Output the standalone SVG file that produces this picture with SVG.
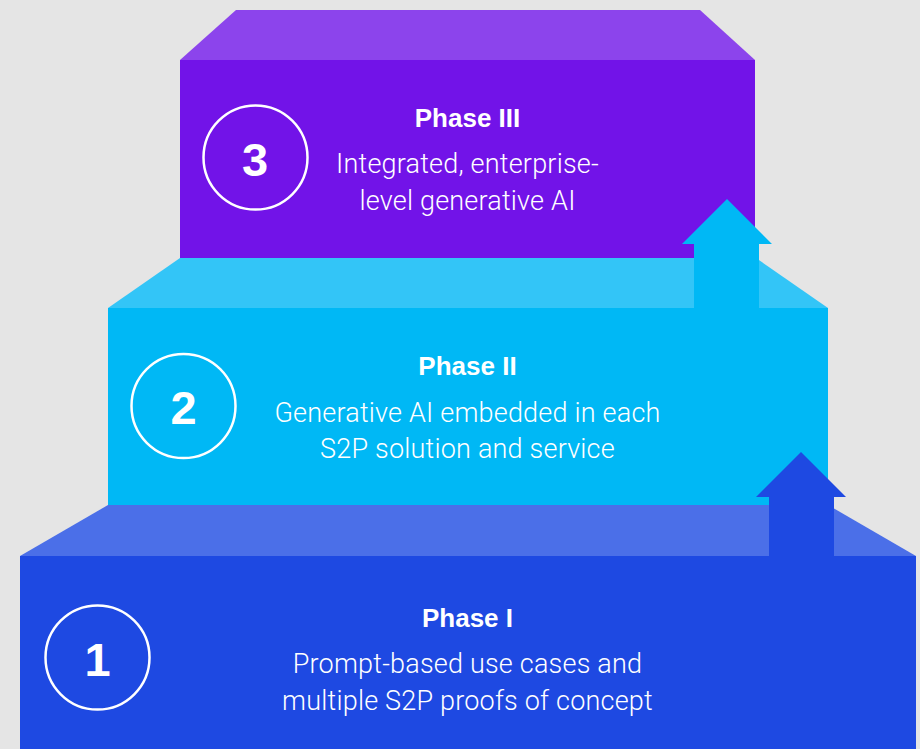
<svg xmlns="http://www.w3.org/2000/svg" width="920" height="749" viewBox="0 0 920 749">
<style>
.title{font-family:"Liberation Sans",Arial,sans-serif;font-weight:bold;font-size:26px;fill:#fff;text-anchor:middle}
.body{font-family:Roboto,"Liberation Sans",sans-serif;font-weight:300;font-size:27px;letter-spacing:0.2px;fill:#fff;text-anchor:middle}
.num{font-family:"Liberation Sans",Arial,sans-serif;font-weight:bold;font-size:47px;fill:#fff;text-anchor:middle}
.ring{fill:none;stroke:#fff;stroke-width:2.5}
</style>
<rect width="920" height="749" fill="#E5E5E5"/>
<g id="phase1">
<polygon points="108,505 828,505 916,556 20,556" fill="#4B6FE8"/>
<rect x="20" y="556" width="896" height="193" fill="#1E49E2"/>
<circle class="ring" cx="97.5" cy="657.5" r="52"/>
<text class="num" x="97.5" y="676">1</text>
<text class="title" x="467.5" y="627">Phase I</text>
<text class="body" x="467.5" y="673">Prompt-based use cases and</text>
<text class="body" x="467.5" y="710">multiple S2P proofs of concept</text>
</g>
<g id="phase2">
<polygon points="180,258 756,258 828,308 108,308" fill="#33C5F7"/>
<rect x="108" y="308" width="720" height="197" fill="#00B8F5"/>
<circle class="ring" cx="183.5" cy="406" r="52"/>
<text class="num" x="183.5" y="424">2</text>
<text class="title" x="467.5" y="375">Phase II</text>
<text class="body" x="467.5" y="422">Generative AI embedded in each</text>
<text class="body" x="467.5" y="458">S2P solution and service</text>
</g>
<g id="phase3">
<polygon points="236,10 700,10 755,60 180,60" fill="#8C44EC"/>
<rect x="180" y="60" width="575" height="198" fill="#7213E8"/>
<circle class="ring" cx="255.5" cy="157.5" r="52"/>
<text class="num" x="255" y="176">3</text>
<text class="title" x="467.5" y="127">Phase III</text>
<text class="body" x="467.5" y="173">Integrated, enterprise-</text>
<text class="body" x="467.5" y="210">level generative AI</text>
</g>
<g id="connectors">
<polygon points="801,452 846,497 834,497 834,556 769,556 769,497 756,497" fill="#1E49E2"/>
<polygon points="727,199 772,244 759,244 759,308 694,308 694,244 682,244" fill="#00B8F5"/>
</g>
</svg>
